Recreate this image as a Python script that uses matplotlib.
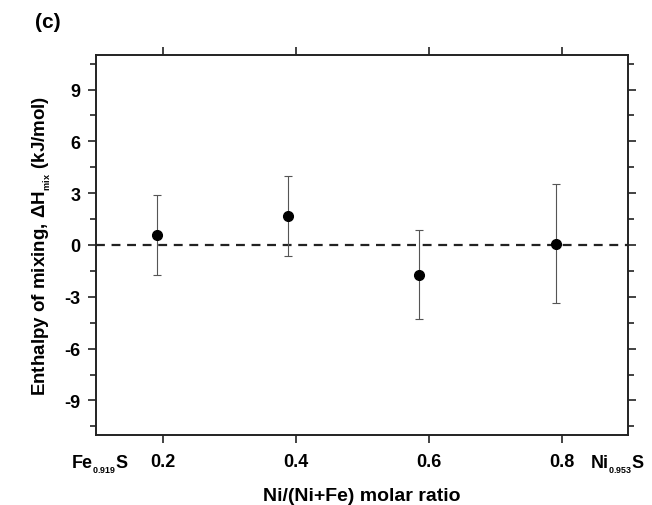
import matplotlib
matplotlib.use('Agg')
import matplotlib.pyplot as plt
import matplotlib.transforms as mtransforms
from matplotlib.ticker import MultipleLocator

# enthalpy of mixing vs composition
ratio = [0.191, 0.389, 0.585, 0.792]
dHmix = [0.60, 1.68, -1.71, 0.08]
dHerr = [2.32, 2.33, 2.60, 3.44]
xticks = [0.1, 0.2, 0.4, 0.6, 0.8, 0.9]
xticklabels = [r'Fe$_{_{0.919}}$S', '0.2', '0.4', '0.6', '0.8', r'Ni$_{_{0.953}}$S']
yticks = [-9, -6, -3, 0, 3, 6, 9]

plt.rcParams['font.family'] = ['Liberation Sans', 'DejaVu Sans']
plt.rcParams['font.weight'] = 'bold'
plt.rcParams['axes.unicode_minus'] = False
plt.rcParams['mathtext.fontset'] = 'custom'
plt.rcParams['mathtext.rm'] = 'Liberation Sans:bold'
plt.rcParams['mathtext.it'] = 'Liberation Sans:bold'
plt.rcParams['mathtext.bf'] = 'Liberation Sans:bold'
plt.rcParams['mathtext.default'] = 'rm'

fig = plt.figure(figsize=(6.52, 5.06), dpi=100)
ax = fig.add_axes([96/652, 70/506, 532/652, 380/506])

ax.axhline(0, color='#222222', lw=1.6, ls=(0, (4, 3)), zorder=1)
ax.errorbar(ratio, dHmix, yerr=dHerr, fmt='o', color='black', ms=7,
            ecolor='#555555', elinewidth=0.8, capsize=3, capthick=0.8, zorder=3)

ax.set_xlim(0.1, 0.9)
ax.set_ylim(-11, 11)
ax.set_xticks(xticks)
ax.set_xticklabels(xticklabels)
ax.set_yticks(yticks)
ax.yaxis.set_minor_locator(MultipleLocator(1.5))

for s in ax.spines.values():
    s.set_linewidth(1.4)
    s.set_color('#222222')
ax.tick_params(which='both', direction='out', top=True, right=True, labelsize=13, width=1.2, color='#222222')
ax.tick_params(which='major', length=6, pad=5)
ax.tick_params(which='minor', length=4)
ax.tick_params(axis='x', labeltop=False, pad=7)
# hide the tick marks sitting on the corners under the end-member labels
for t in [ax.xaxis.get_major_ticks()[0], ax.xaxis.get_major_ticks()[-1]]:
    t.tick1line.set_visible(False)
    t.tick2line.set_visible(False)
# nudge the end-member labels: Fe a little right, Ni back inside the figure
labels = ax.get_xticklabels()
labels[0].set_transform(labels[0].get_transform() + mtransforms.ScaledTranslation(4/100, 0, fig.dpi_scale_trans))
labels[-1].set_transform(labels[-1].get_transform() + mtransforms.ScaledTranslation(-11/100, 0, fig.dpi_scale_trans))

ax.set_xlabel('Ni/(Ni+Fe) molar ratio', fontsize=14, fontweight='bold')
ax.xaxis.set_label_coords(0.5, -0.138)
ax.set_ylabel(r'Enthalpy of mixing, $\Delta$H$_{_{mix}}$ (kJ/mol)', fontsize=13.5, fontweight='bold', labelpad=8)
fig.text(35/652, 1 - 23/506, '(c)', fontsize=15, fontweight='bold', va='center', ha='left')

fig.savefig('out.png', dpi=100)
